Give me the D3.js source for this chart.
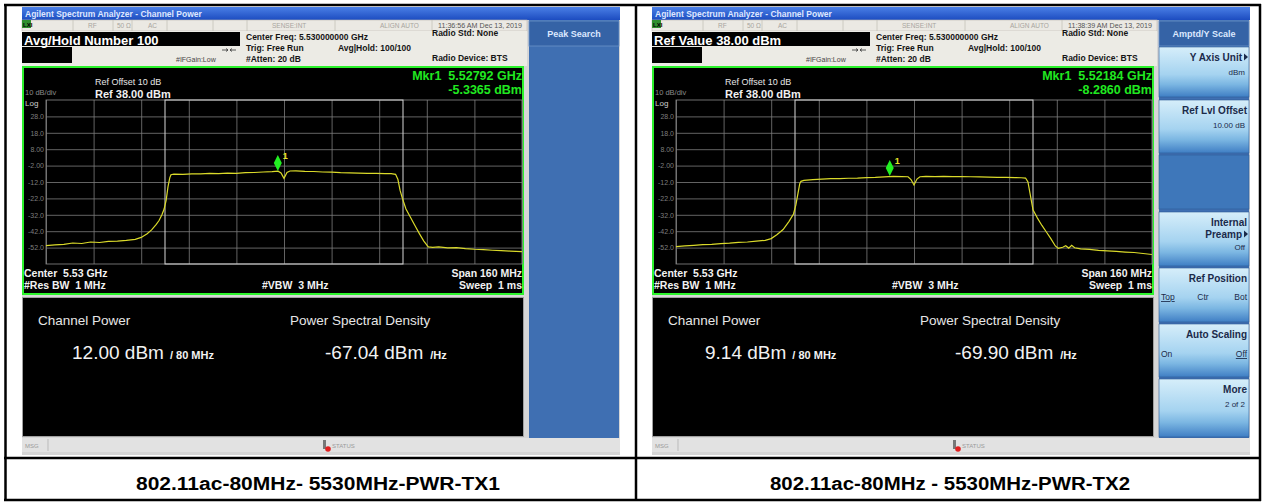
<!DOCTYPE html>
<html>
<head>
<meta charset="utf-8">
<script src="https://cdn.jsdelivr.net/npm/d3@7"></script>
<style>
body { margin: 0; background: #fff; }
svg text { font-family: "Liberation Sans", Arial, sans-serif; }
</style>
</head>
<body>
<svg id="chart" width="1263" height="502"></svg>
<script>
// two channel power screenshots (TX1, TX2)

// y axis: ref 38 dBm, 10 dB/div
var yTickVals = [28, 18, 8, -2, -12, -22, -32, -42, -52];
var yTickLabels = ["28.0", "18.0", "8.00", "-2.00", "-12.0", "-22.0", "-32.0", "-42.0", "-52.0"];

// trace TX1 : offset from 5.53 GHz (MHz) / level (dBm)
var tx1Freq = [-80,-77,-74,-71,-68,-65,-62,-59,-56,-53,-50,-48,-46,-44.5,-43,-42,-41,-40.3,-39.6,-39,-38.4,-38,-37,-34,-31,-28,-25,-22,-19,-16,-13,-10,-7,-4,-2,-1,0,1,2,4,7,10,13,16,19,22,25,28,31,34,36,37.5,38.3,39,39.8,41,42.5,44,45.5,47,48.5,50,52,55,58,61,64,67,70,73,76,80];
var tx1Level = [-50.8,-50.3,-50.0,-49.2,-49.5,-48.6,-48.9,-48.2,-48.0,-47.6,-47.0,-45.8,-43.5,-41.2,-38.0,-35.5,-31.8,-28.5,-23.0,-15.0,-9.5,-7.6,-7.2,-7.4,-7.0,-7.1,-6.8,-6.9,-6.6,-6.7,-6.3,-6.2,-5.9,-5.7,-5.4,-6.5,-9.8,-6.2,-5.3,-5.2,-5.5,-5.6,-5.9,-6.0,-6.3,-6.4,-6.6,-6.7,-6.8,-6.9,-6.9,-7.3,-10.5,-17.0,-22.0,-28.5,-33.5,-38.5,-43.5,-48.0,-51.6,-51.9,-51.5,-52.2,-52.0,-52.6,-53.0,-53.2,-53.6,-53.9,-54.1,-54.4];

// trace TX2
var tx2Freq = [-80,-77,-74,-71,-68,-65,-62,-59,-56,-53,-50,-48,-46,-44,-42,-40.5,-39.7,-39,-38.4,-38,-37,-34,-31,-28,-25,-22,-19,-16,-13,-10,-7,-4,-2,-1,0,1,2,4,7,10,13,16,19,22,25,28,31,34,36,37.5,38.3,39,40,41.5,43,44.5,46,47.5,48.5,50,51,52,53,54,56,59,62,65,68,71,74,77,80];
var tx2Level = [-51.4,-51.0,-50.6,-50.2,-50.0,-49.6,-49.3,-48.8,-48.6,-48.0,-47.6,-46.5,-44.0,-41.0,-36.0,-31.5,-26.0,-19.0,-13.0,-11.6,-11.0,-10.5,-10.2,-10.0,-9.9,-9.7,-9.6,-9.3,-9.2,-8.9,-8.6,-8.7,-8.8,-10.5,-13.8,-10.2,-8.8,-8.6,-8.7,-8.6,-8.7,-8.7,-8.8,-8.9,-9.0,-9.2,-9.2,-9.3,-9.4,-9.6,-12.0,-18.9,-29.0,-34.0,-38.5,-42.5,-46.5,-51.0,-52.4,-51.8,-50.9,-52.3,-50.6,-52.1,-52.8,-53.1,-53.7,-54.0,-54.3,-54.7,-55.0,-55.6,-56.2];

var markerFreq = [-2.08, -8.16];
var markerLevel = [-5.3365, -8.2860];
var markerFreqText = ["5.52792 GHz", "5.52184 GHz"];
var markerLevelText = ["-5.3365 dBm", "-8.2860 dBm"];

var headLabel = ["Avg/Hold Number 100", "Ref Value 38.00 dBm"];
var timeStamp = ["11:36:56 AM Dec 13, 2019", "11:38:39 AM Dec 13, 2019"];
var chanPower = ["12.00 dBm", "9.14 dBm"];
var psdValue = ["-67.04 dBm", "-69.90 dBm"];
var menuTitle = ["Peak Search", "Amptd/Y Scale"];
var captions = ["802.11ac-80MHz- 5530MHz-PWR-TX1", "802.11ac-80MHz - 5530MHz-PWR-TX2"];

var svg = d3.select("#chart");
var defs = svg.append("defs");

var tg = defs.append("linearGradient").attr("id", "titleGrad").attr("x1", 0).attr("y1", 0).attr("x2", 0).attr("y2", 1);
tg.append("stop").attr("offset", "0%").attr("stop-color", "#4a7fe6");
tg.append("stop").attr("offset", "100%").attr("stop-color", "#1c4cc0");

var bg = defs.append("linearGradient").attr("id", "keyGrad").attr("x1", 0).attr("y1", 0).attr("x2", 0).attr("y2", 1);
bg.append("stop").attr("offset", "0%").attr("stop-color", "#d6eefa");
bg.append("stop").attr("offset", "55%").attr("stop-color", "#a5d3f0");
bg.append("stop").attr("offset", "75%").attr("stop-color", "#7bb6e2");
bg.append("stop").attr("offset", "100%").attr("stop-color", "#3f7ec4");

svg.append("rect").attr("width", 1263).attr("height", 502).attr("fill", "#fff");

function drawPanel(idx) {
    var dx = idx * 630;
    var g = svg.append("g").attr("transform", "translate(" + dx + ",0)");

    // frame
    g.append("rect").attr("x", 22).attr("y", 7).attr("width", 598).attr("height", 448).attr("fill", "#d6d6d6");
    g.append("rect").attr("x", 22).attr("y", 7).attr("width", 598).attr("height", 13).attr("fill", "url(#titleGrad)");
    g.append("text").attr("x", 25).attr("y", 16.5).attr("font-size", 8.5).attr("font-weight", "bold")
        .attr("fill", "#dfe7ff").text("Agilent Spectrum Analyzer - Channel Power");

    // status row
    g.append("rect").attr("x", 22).attr("y", 20).attr("width", 505).attr("height", 11)
        .attr("fill", "#ebe9e3").attr("stroke", "#bdbab2").attr("stroke-width", 0.6);
    g.append("rect").attr("x", 22).attr("y", 20).attr("width", 9).attr("height", 8).attr("fill", "#2f8f2f");
    g.append("text").attr("x", 23).attr("y", 27).attr("font-size", 6).attr("font-weight", "bold").text("LXI");
    [73, 113, 132, 167, 213, 247, 335, 432].forEach(function (sx) {
        g.append("line").attr("x1", sx).attr("x2", sx).attr("y1", 20).attr("y2", 31)
            .attr("stroke", "#c4c1b9").attr("stroke-width", 0.8);
    });
    var st = [["RF", 88], ["50 \u03A9", 117], ["AC", 148], ["SENSE:INT", 272], ["ALIGN AUTO", 380]];
    st.forEach(function (s) {
        g.append("text").attr("x", s[1]).attr("y", 28).attr("font-size", 6.5).attr("fill", "#a8a59e").text(s[0]);
    });
    g.append("text").attr("x", 438).attr("y", 28).attr("font-size", 7).attr("fill", "#555")
        .attr("textLength", 84).attr("lengthAdjust", "spacingAndGlyphs").text(timeStamp[idx]);

    // header
    g.append("rect").attr("x", 22).attr("y", 31).attr("width", 505).attr("height", 35).attr("fill", "#ecebe5");
    g.append("rect").attr("x", 22).attr("y", 32).attr("width", 218).attr("height", 14).attr("fill", "#000");
    g.append("rect").attr("x", 22).attr("y", 47).attr("width", 50).attr("height", 16).attr("fill", "#000");
    g.append("text").attr("x", 24).attr("y", 44.5).attr("font-size", 13).attr("font-weight", "bold")
        .attr("fill", "#fff").text(headLabel[idx]);
    g.append("text").attr("x", 176).attr("y", 62).attr("font-size", 7).attr("fill", "#444").text("#IFGain:Low");
    g.append("path").attr("d", "M222,50 L228,50 M230,50 L236,50 M226,48.5 L228,50 L226,51.5 M232,48.5 L230,50 L232,51.5")
        .attr("stroke", "#333").attr("fill", "none").attr("stroke-width", 0.8);
    var hd = [["Center Freq: 5.530000000 GHz", 246, 40], ["Trig: Free Run", 246, 51], ["#Atten: 20 dB", 246, 62],
              ["Avg|Hold: 100/100", 338, 51], ["Radio Std: None", 432, 36], ["Radio Device: BTS", 432, 61]];
    hd.forEach(function (h) {
        g.append("text").attr("x", h[1]).attr("y", h[2]).attr("font-size", 8.5).attr("font-weight", "bold")
            .attr("fill", "#151515").text(h[0]);
    });

    // softkey column
    g.append("rect").attr("x", 529).attr("y", 20).attr("width", 90).attr("height", 418).attr("fill", "#3f6fb2");
    g.append("rect").attr("x", 529).attr("y", 21).attr("width", 90).attr("height", 25)
        .attr("fill", "#3563a6").attr("stroke", "#6b93c9").attr("stroke-width", 0.8);
    g.append("text").attr("x", 574).attr("y", 37).attr("text-anchor", "middle").attr("font-size", 9)
        .attr("font-weight", "bold").attr("fill", "#dce8ff").text(menuTitle[idx]);

    // graph area
    g.append("rect").attr("x", 23).attr("y", 67).attr("width", 500).attr("height", 227)
        .attr("fill", "#000").attr("stroke", "#2cf22c").attr("stroke-width", 2);

    var x = d3.scaleLinear().domain([-80, 80]).range([46, 522]);
    var y = d3.scaleLinear().domain([-62, 38]).range([264, 100]);

    var yAxis = d3.axisLeft(y).tickValues(yTickVals).tickSize(-476).tickPadding(2)
        .tickFormat(function (d, i) { return yTickLabels[i]; });
    var ya = g.append("g").attr("transform", "translate(46,0)").call(yAxis);
    ya.select(".domain").remove();
    ya.selectAll("line").attr("stroke", "#7c7c7c").attr("stroke-width", 0.8);
    ya.selectAll("text").attr("fill", "#7e7e7e").attr("font-size", 7).attr("font-family", "Liberation Sans, Arial");

    var xAxis = d3.axisBottom(x).tickValues(d3.range(-80, 81, 16)).tickSize(-164).tickFormat("");
    var xa = g.append("g").attr("transform", "translate(0,264)").call(xAxis);
    xa.select(".domain").remove();
    xa.selectAll("line").attr("stroke", "#7c7c7c").attr("stroke-width", 0.8);

    g.append("rect").attr("x", 46).attr("y", 100).attr("width", 476).attr("height", 164)
        .attr("fill", "none").attr("stroke", "#8a8a8a").attr("stroke-width", 0.8);
    // channel integration box, +/-40 MHz
    g.append("rect").attr("x", x(-40)).attr("y", 100).attr("width", x(40) - x(-40)).attr("height", 164)
        .attr("fill", "none").attr("stroke", "#d8d8d8").attr("stroke-width", 1);

    g.append("text").attr("x", 25).attr("y", 95).attr("font-size", 7.5).attr("fill", "#8a8a8a").text("10 dB/div");
    g.append("text").attr("x", 25).attr("y", 106).attr("font-size", 8).attr("fill", "#cfcfcf").text("Log");
    g.append("text").attr("x", 95).attr("y", 85).attr("font-size", 9).attr("fill", "#e6e6e6").text("Ref Offset 10 dB");
    g.append("text").attr("x", 95).attr("y", 97.5).attr("font-size", 11).attr("font-weight", "bold")
        .attr("fill", "#f0f0f0").text("Ref 38.00 dBm");

    g.append("text").attr("x", 522).attr("y", 80).attr("text-anchor", "end").attr("font-size", 12.5)
        .attr("font-weight", "bold").attr("fill", "#20e820").attr("xml:space", "preserve")
        .text("Mkr1  " + markerFreqText[idx]);
    g.append("text").attr("x", 522).attr("y", 94).attr("text-anchor", "end").attr("font-size", 12.5)
        .attr("font-weight", "bold").attr("fill", "#20e820").text(markerLevelText[idx]);

    // trace
    var fr = idx == 0 ? tx1Freq : tx2Freq;
    var lv = idx == 0 ? tx1Level : tx2Level;
    var pts = fr.map(function (f, i) { return [f, lv[i]]; });
    var line = d3.line().x(function (d) { return x(d[0]); }).y(function (d) { return y(d[1]); });
    g.append("path").datum(pts).attr("d", line).attr("fill", "none")
        .attr("stroke", "#dada2a").attr("stroke-width", 1.2);

    // marker
    var mx = x(markerFreq[idx]), my = y(markerLevel[idx]);
    g.append("path").attr("d", "M" + mx + "," + (my - 16) + " L" + (mx + 4) + "," + (my - 8) + " L" + mx + "," + my +
        " L" + (mx - 4) + "," + (my - 8) + "Z").attr("fill", "#22f022");
    g.append("text").attr("x", mx + 5).attr("y", my - 12).attr("font-size", 9).attr("font-weight", "bold")
        .attr("fill", "#e6e62a").text("1");

    // bottom annotations
    var an = [["Center  5.53 GHz", 24, 277, "start"], ["#Res BW  1 MHz", 24, 289, "start"], ["#VBW  3 MHz", 262, 289, "start"],
              ["Span 160 MHz", 522, 277, "end"], ["Sweep  1 ms", 522, 289, "end"]];
    an.forEach(function (a) {
        g.append("text").attr("x", a[1]).attr("y", a[2]).attr("text-anchor", a[3]).attr("font-size", 10.5)
            .attr("font-weight", "bold").attr("fill", "#f2f2f2").attr("xml:space", "preserve").text(a[0]);
    });

    // results window
    g.append("rect").attr("x", 22.5).attr("y", 297.5).attr("width", 501).attr("height", 139)
        .attr("fill", "#000").attr("stroke", "#a0a0a0").attr("stroke-width", 1);
    g.append("text").attr("x", 38).attr("y", 325).attr("font-size", 13.5).attr("fill", "#e6e6e6").text("Channel Power");
    g.append("text").attr("x", 290).attr("y", 325).attr("font-size", 13.5).attr("fill", "#e6e6e6").text("Power Spectral Density");
    var cp = g.append("text").attr("x", idx == 0 ? 72 : 75).attr("y", 359).attr("fill", "#f2f2f2");
    cp.append("tspan").attr("font-size", 19).text(chanPower[idx]);
    cp.append("tspan").attr("font-size", 11).attr("font-weight", "bold").attr("dx", 6).text("/ 80 MHz");
    var ps = g.append("text").attr("x", 325).attr("y", 359).attr("fill", "#f2f2f2");
    ps.append("tspan").attr("font-size", 19).text(psdValue[idx]);
    ps.append("tspan").attr("font-size", 11).attr("font-weight", "bold").attr("dx", 7).text("/Hz");

    // message bar
    g.append("rect").attr("x", 22).attr("y", 438).attr("width", 598).attr("height", 14).attr("fill", "#e2e2e2");
    g.append("text").attr("x", 25).attr("y", 448).attr("font-size", 6).attr("fill", "#9a9a9a").text("MSG");
    g.append("line").attr("x1", 48).attr("x2", 48).attr("y1", 439).attr("y2", 451).attr("stroke", "#bbb");
    g.append("rect").attr("x", 323).attr("y", 440).attr("width", 3).attr("height", 9).attr("fill", "#777");
    g.append("circle").attr("cx", 328).attr("cy", 449).attr("r", 2.8).attr("fill", "#e02020");
    g.append("text").attr("x", 332).attr("y", 448).attr("font-size", 6).attr("fill", "#9a9a9a").text("STATUS");
}

drawPanel(0);
drawPanel(1);

// softkeys of the Amptd/Y Scale menu (panel 2)
var keyTop = [47, 100, 155, 212, 268, 324, 379];
var keyBottom = [97, 153, 209, 266, 322, 377, 437];
var keyLabel = [["Y Axis Unit"], ["Ref Lvl Offset"], [], ["Internal", "Preamp"], ["Ref Position"], ["Auto Scaling"], ["More"]];
var keySub = ["dBm", "10.00 dB", "", "Off", "", "", "2 of 2"];

var sk = svg.append("g").attr("transform", "translate(630,0)");
keyTop.forEach(function (t, i) {
    sk.append("rect").attr("x", 529).attr("y", t).attr("width", 90).attr("height", keyBottom[i] - t)
        .attr("fill", keyLabel[i].length ? "url(#keyGrad)" : "#3e77ba").attr("stroke", "#2c5a96").attr("stroke-width", 0.6);
    keyLabel[i].forEach(function (l, j) {
        var endX = (i == 0 || (i == 3 && j == 1)) ? 612 : 617;
        sk.append("text").attr("x", endX).attr("y", t + 14 + j * 12).attr("text-anchor", "end")
            .attr("font-size", 10).attr("font-weight", "bold").attr("fill", "#1b2a4a").text(l);
    });
    if (keySub[i]) {
        var sy = i == 3 ? t + 38 : t + 28;
        sk.append("text").attr("x", 615).attr("y", sy).attr("text-anchor", "end")
            .attr("font-size", 8).attr("fill", "#1b2a4a").text(keySub[i]);
    }
});
// submenu arrows
[[618, 57], [618, 234]].forEach(function (a) {
    sk.append("path").attr("d", "M" + (a[0] - 4) + "," + (a[1] - 3.5) + " L" + a[0] + "," + a[1] + " L" + (a[0] - 4) + "," + (a[1] + 3.5) + "Z")
        .attr("fill", "#1b2a4a");
});
var opt = [["Top", 531, 300, "start", true], ["Ctr", 573, 300, "middle", false], ["Bot", 617, 300, "end", false],
           ["On", 531, 357, "start", false], ["Off", 617, 357, "end", true]];
opt.forEach(function (o) {
    sk.append("text").attr("x", o[1]).attr("y", o[2]).attr("text-anchor", o[3]).attr("font-size", 8.5)
        .attr("fill", "#1b2a4a").attr("text-decoration", o[4] ? "underline" : "none").text(o[0]);
});

// table borders and captions
var tb = svg.append("g").attr("stroke", "#000").attr("stroke-width", 2.5);
tb.append("line").attr("x1", 4).attr("x2", 1261).attr("y1", 5).attr("y2", 5);
tb.append("line").attr("x1", 4).attr("x2", 1261).attr("y1", 458).attr("y2", 458);
tb.append("line").attr("x1", 4).attr("x2", 1261).attr("y1", 500).attr("y2", 500);
tb.append("line").attr("x1", 5.5).attr("x2", 5.5).attr("y1", 4).attr("y2", 501);
tb.append("line").attr("x1", 636).attr("x2", 636).attr("y1", 4).attr("y2", 501);
tb.append("line").attr("x1", 1260).attr("x2", 1260).attr("y1", 4).attr("y2", 501);

var capX = [318, 950];
var capW = [364, 360];
captions.forEach(function (c, i) {
    svg.append("text").attr("x", capX[i] - capW[i] / 2).attr("y", 490)
        .attr("font-family", "'Liberation Sans Narrow', 'DejaVu Sans Condensed', sans-serif")
        .attr("font-size", 18).attr("font-weight", "bold").attr("fill", "#000")
        .attr("textLength", capW[i]).attr("lengthAdjust", "spacingAndGlyphs").text(c);
});
</script>
</body>
</html>
